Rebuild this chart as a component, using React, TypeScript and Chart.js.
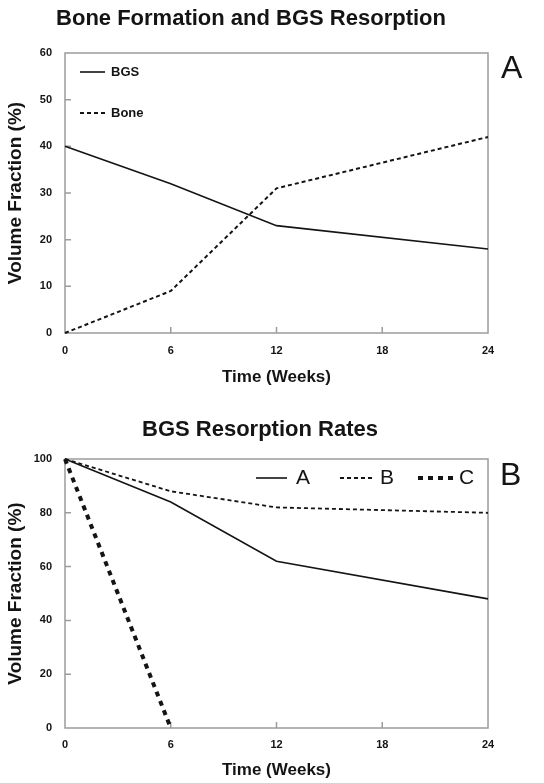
import React, { useEffect, useRef } from "react";
import { Chart, registerables } from "chart.js";

Chart.register(...registerables);

// ---------- data ----------
const weeks = [0, 6, 12, 24];
const bgsValues = [40, 32, 23, 18];
const boneValues = [0, 9, 31, 42];

const rateWeeks = [0, 6, 12, 24];
const rateA = [100, 84, 62, 48];
const rateB = [100, 88, 82, 80];
const rateWeeksC = [0, 6];
const rateC = [100, 0];

const titleA = "Bone Formation and BGS Resorption";
const titleB = "BGS Resorption Rates";
const xTitle = "Time (Weeks)";
const yTitle = "Volume Fraction (%)";

const FAMILY = '"Liberation Sans", Arial, Helvetica, sans-serif';
const INK = "#141414";
const FRAME = "#9c9c9c";

const toPoints = (xs: number[], ys: number[]) => xs.map((x, i) => ({ x, y: ys[i] }));

// frame + inner tick marks, drawn from the chart's own scales
const framePlugin = {
  id: "frameBox",
  beforeDatasetsDraw(chart: any, _args: any, opts: any) {
    const { ctx, chartArea } = chart;
    const { left, right, top, bottom } = chartArea;
    ctx.save();
    ctx.strokeStyle = opts.color || FRAME;
    ctx.lineWidth = opts.width || 1.5;
    ctx.setLineDash([]);
    ctx.strokeRect(left, top, right - left, bottom - top);
    const len = opts.tickLen || 6;
    const xs = chart.scales.x;
    const ys = chart.scales.y;
    ctx.beginPath();
    xs.ticks.forEach((t: any) => {
      if (t.value <= xs.min || t.value >= xs.max) return;
      const px = xs.getPixelForValue(t.value);
      ctx.moveTo(px, bottom);
      ctx.lineTo(px, bottom - len);
    });
    ys.ticks.forEach((t: any) => {
      if (t.value <= ys.min || t.value >= ys.max) return;
      const py = ys.getPixelForValue(t.value);
      ctx.moveTo(left, py);
      ctx.lineTo(left + len, py);
    });
    ctx.stroke();
    ctx.restore();
  },
};

// custom in-plot legend using dataset styles
const lineLegendPlugin = {
  id: "lineLegend",
  afterDatasetsDraw(chart: any, _args: any, opts: any) {
    const { ctx } = chart;
    const items = opts.items || [];
    ctx.save();
    items.forEach((it: any) => {
      const ds = chart.data.datasets[it.index];
      ctx.strokeStyle = ds.borderColor;
      ctx.lineWidth = ds.borderWidth;
      ctx.setLineDash(ds.borderDash || []);
      ctx.lineCap = "butt";
      ctx.beginPath();
      ctx.moveTo(it.x, it.y);
      ctx.lineTo(it.x + it.len, it.y);
      ctx.stroke();
      ctx.setLineDash([]);
      ctx.fillStyle = INK;
      ctx.font = opts.font;
      ctx.textBaseline = "middle";
      ctx.textAlign = "left";
      ctx.fillText(ds.label, it.x + it.len + (it.gap ?? opts.gap ?? 6), it.y);
    });
    if (opts.letter) {
      ctx.font = opts.letterFont;
      ctx.fillStyle = INK;
      ctx.textBaseline = "middle";
      ctx.textAlign = "left";
      ctx.fillText(opts.letter.text, opts.letter.x, opts.letter.y);
    }
    ctx.restore();
  },
};

function makeOptions(cfg: any) {
  return {
    animation: false,
    responsive: false,
    maintainAspectRatio: false,
    layout: { padding: { left: cfg.padLeft, right: 56, top: 0, bottom: 0 } },
    plugins: {
      legend: { display: false },
      tooltip: { enabled: false },
      title: {
        display: true,
        text: cfg.title,
        color: INK,
        font: { family: FAMILY, size: 22, weight: "bold" },
        padding: { top: cfg.titleTop, bottom: cfg.titleBottom },
      },
      frameBox: { color: FRAME, width: 1.5, tickLen: 6 },
      lineLegend: cfg.legend,
    },
    scales: {
      x: {
        type: "linear",
        min: 0,
        max: 24,
        ticks: {
          stepSize: 6,
          padding: cfg.xTickPad,
          color: INK,
          font: { family: FAMILY, size: 11, weight: "bold" },
        },
        grid: { display: false, drawTicks: false },
        border: { display: false },
        title: {
          display: true,
          text: xTitle,
          color: INK,
          font: { family: FAMILY, size: 17, weight: "bold" },
          padding: { top: 0, bottom: cfg.xTitlePad },
        },
        afterFit: (s: any) => {
          s.height = cfg.xHeight;
        },
      },
      y: {
        type: "linear",
        min: 0,
        max: cfg.yMax,
        ticks: {
          stepSize: cfg.yStep,
          padding: 13,
          color: INK,
          font: { family: FAMILY, size: 11, weight: "bold" },
        },
        grid: { display: false, drawTicks: false },
        border: { display: false },
        title: {
          display: true,
          text: yTitle,
          color: INK,
          font: { family: FAMILY, size: 19, weight: "bold" },
          padding: { top: cfg.yTitlePad, bottom: 0 },
        },
        afterFit: (s: any) => {
          s.width = 65 - cfg.padLeft;
        },
      },
    },
  };
}

function lineDs(label: string, data: any[], width: number, dash: number[]) {
  return {
    label,
    data,
    borderColor: INK,
    backgroundColor: INK,
    borderWidth: width,
    borderDash: dash,
    pointRadius: 0,
    tension: 0,
    fill: false,
    clip: false,
  };
}

function ChartA() {
  const ref = useRef<HTMLCanvasElement | null>(null);
  useEffect(() => {
    if (!ref.current) return;
    const chart = new Chart(ref.current, {
      type: "line",
      data: {
        datasets: [
          lineDs("BGS", toPoints(weeks, bgsValues), 1.6, []),
          lineDs("Bone", toPoints(weeks, boneValues), 2, [4, 3]),
        ],
      },
      options: makeOptions({
        padLeft: 14,
        title: titleA,
        titleTop: 6,
        titleBottom: 20.6,
        xTickPad: 11,
        xTitlePad: 4.8,
        xHeight: 59,
        yMax: 60,
        yStep: 10,
        yTitlePad: -9.4,
        legend: {
          font: `bold 13px ${FAMILY}`,
          gap: 6,
          items: [
            { index: 0, x: 80, y: 72, len: 25 },
            { index: 1, x: 80, y: 113, len: 25 },
          ],
          letter: { text: "A", x: 501, y: 69 },
          letterFont: `32px ${FAMILY}`,
        },
      }) as any,
      plugins: [framePlugin, lineLegendPlugin],
    });
    return () => chart.destroy();
  }, []);
  return (
    <canvas
      ref={ref}
      width={544}
      height={392}
      style={{ position: "absolute", left: 0, top: 0, width: 544, height: 392 }}
    />
  );
}

function ChartB() {
  const ref = useRef<HTMLCanvasElement | null>(null);
  useEffect(() => {
    if (!ref.current) return;
    const chart = new Chart(ref.current, {
      type: "line",
      data: {
        datasets: [
          lineDs("A", toPoints(rateWeeks, rateA), 1.6, []),
          lineDs("B", toPoints(rateWeeks, rateB), 1.8, [4, 3]),
          lineDs("C", toPoints(rateWeeksC, rateC), 4, [5, 5]),
        ],
      },
      options: makeOptions({
        padLeft: 32,
        title: titleB,
        titleTop: 24.8,
        titleBottom: 15.8,
        xTickPad: 10,
        xTitlePad: 2.8,
        xHeight: 55,
        yMax: 100,
        yStep: 20,
        yTitlePad: -27.4,
        legend: {
          font: `21px ${FAMILY}`,
          gap: 9,
          items: [
            { index: 0, x: 256, y: 86, len: 31, gap: 9 },
            { index: 1, x: 340, y: 86, len: 32, gap: 8 },
            { index: 2, x: 418, y: 86, len: 36, gap: 5 },
          ],
          letter: { text: "B", x: 500, y: 84 },
          letterFont: `32px ${FAMILY}`,
        },
      }) as any,
      plugins: [framePlugin, lineLegendPlugin],
    });
    return () => chart.destroy();
  }, []);
  return (
    <canvas
      ref={ref}
      width={544}
      height={391}
      style={{ position: "absolute", left: 0, top: 392, width: 544, height: 391 }}
    />
  );
}

export default function App() {
  return (
    <div
      style={{
        position: "absolute",
        left: 0,
        top: 0,
        width: 544,
        height: 783,
        background: "#ffffff",
        overflow: "hidden",
      }}
    >
      <ChartA />
      <ChartB />
    </div>
  );
}
